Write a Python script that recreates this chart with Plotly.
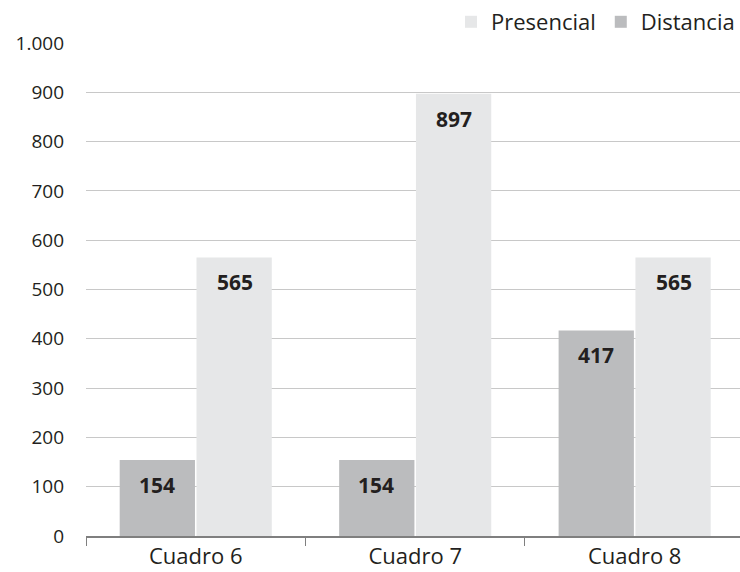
import plotly.graph_objects as go

categories = ["Cuadro 6", "Cuadro 7", "Cuadro 8"]
distancia = [154, 154, 417]
presencial = [565, 897, 565]
y_tickvals = [0, 100, 200, 300, 400, 500, 600, 700, 800, 900, 1000]
y_ticktext = ["0", "100", "200", "300", "400", "500", "600", "700", "800", "900", "1.000"]

col_dist = "#bbbcbe"
col_pres = "#e6e7e8"
txt = "#231f20"
font = "Open Sans"

fig = go.Figure()
fig.add_trace(go.Bar(name="Distancia", x=categories, y=distancia, marker_color=col_dist,
                     marker_line_width=0))
fig.add_trace(go.Bar(name="Presencial", x=categories, y=presencial, marker_color=col_pres,
                     marker_line_width=0))

annotations = []
for i, c in enumerate(categories):
    for val, dx in ((distancia[i], -39), (presencial[i], 39)):
        annotations.append(dict(x=c, y=val, xref="x", yref="y", text=f"<b>{val}</b>",
                                showarrow=False, xshift=dx, yshift=-25,
                                font=dict(family=font, size=21, color=txt)))

fig.update_layout(
    width=740, height=572,
    margin=dict(l=86, r=0, t=43, b=36),
    paper_bgcolor="white", plot_bgcolor="white",
    barmode="group", bargap=0.3, bargroupgap=0.02,
    font=dict(family=font, size=19, color=txt),
    showlegend=True,
    legend=dict(orientation="h", x=1.0, xanchor="right", y=1.0, yanchor="bottom",
                traceorder="reversed", font=dict(family=font, size=22, color=txt),
                bgcolor="rgba(0,0,0,0)", itemwidth=30, tracegroupgap=0),
    annotations=annotations,
    xaxis=dict(range=[-0.5, 2.48], showgrid=False, showline=True, linecolor="#7f7f7f",
               linewidth=1.5, ticks="outside", tickson="boundaries", ticklen=8,
               tickcolor="#7f7f7f", tickfont=dict(family=font, size=22, color=txt)),
    yaxis=dict(range=[0, 1000], tickvals=y_tickvals, ticktext=y_ticktext,
               showgrid=True, gridcolor="#c8c8c8", gridwidth=1, zeroline=False,
               showline=False, ticks="", ticklabelstandoff=21,
               tickfont=dict(family=font, size=19, color=txt)),
)

fig.write_html("out.html")
